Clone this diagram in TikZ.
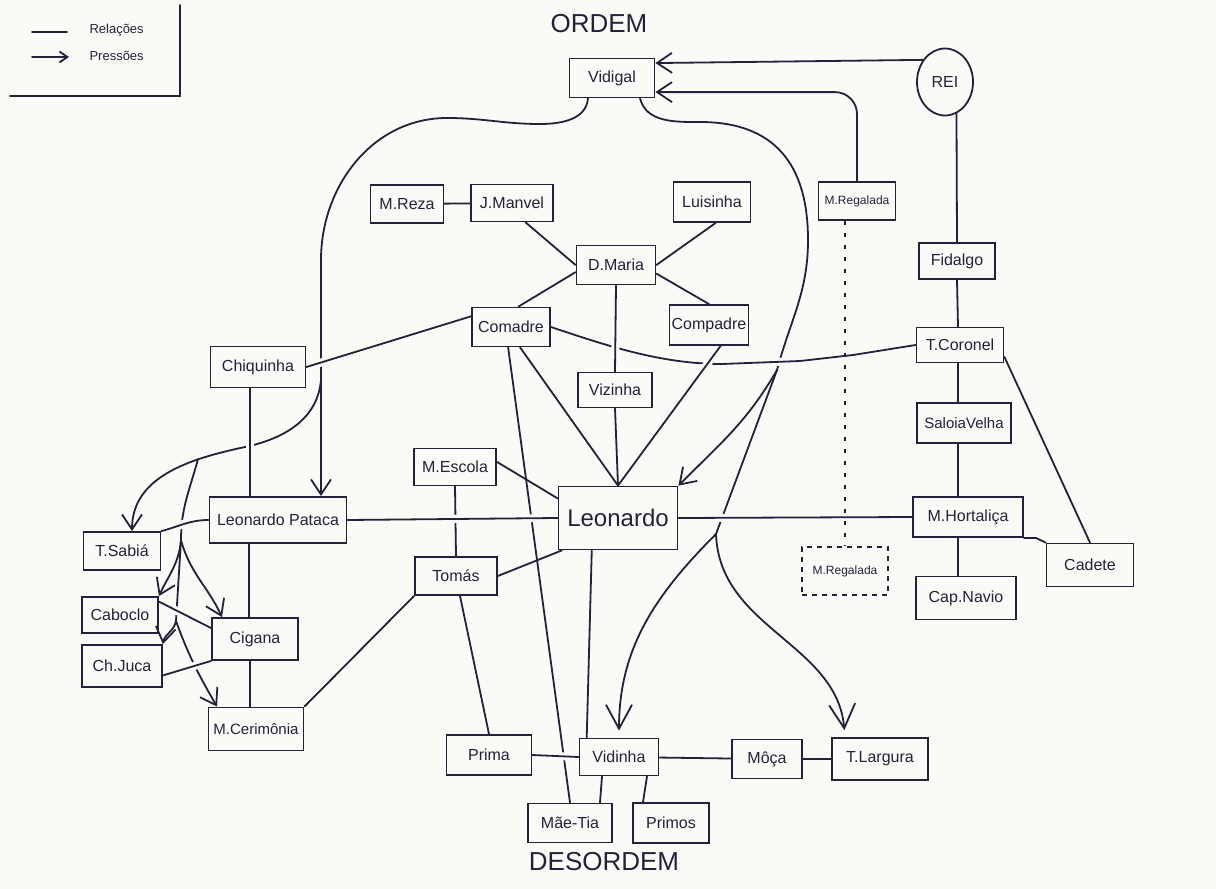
\documentclass[tikz,border=0pt]{standalone}
\usepackage{fontspec}
\setmainfont{Liberation Sans}
\usepackage{xcolor}
\definecolor{tinta}{RGB}{38,33,58}
\definecolor{papel}{RGB}{251,250,247}
\usepackage{tikz}
\usetikzlibrary{calc}
\usetikzlibrary{arrows.meta}
\usetikzlibrary{shapes.geometric}
\newcommand{\fonte}[1]{\fontsize{#1}{#1}\selectfont}
\newcommand{\linha}{1.8pt}
\tikzset{
    caixa/.style 2 args={draw=tinta, rectangle, line width=\linha, minimum width=#1, minimum height=#2, inner sep=1pt, font=\fonte{16}, text=tinta},
    rei/.style={draw=tinta, ellipse, line width=\linha, minimum width=56pt, minimum height=67pt, inner sep=0pt, font=\fonte{16}, text=tinta},
    tracejada/.style={dash pattern=on 5pt off 5pt},
    relacao/.style={draw=tinta, line width=\linha, line cap=round},
    pressao/.style={relacao, -{Straight Barb[length=15pt, width=20pt]}},
    pressaogrande/.style={relacao, -{Straight Barb[length=24pt, width=26pt]}, shorten >=7pt},
    hop/.style 2 args={preaction={draw=papel, line width=8pt, shorten <=#1, shorten >=#2}},
    pontilhado/.style={draw=tinta, line width=\linha, dash pattern=on 4pt off 8pt},
    titulo/.style={font=\fonte{26}, text=tinta},
    legenda/.style={font=\fonte{13}, text=tinta, anchor=west}
}

\begin{document}
\begin{tikzpicture}[x=1pt, y=1pt]
        \fill[papel] (0,0) rectangle (1216,-889);
        \useasboundingbox (0,0) rectangle (1216,-889);

        % legenda
        \draw[relacao] (10,-96) -| (180,-5);
        \coordinate (rel-a) at (32,-32);
        \coordinate (rel-b) at (67,-32);
        \coordinate (pre-a) at (32,-57);
        \coordinate (pre-b) at (69,-57);
        \draw[relacao] (rel-a) -- (rel-b);
        \draw[relacao, -{Straight Barb[length=8pt, width=11pt]}] (pre-a) -- (pre-b);
        \node[legenda] (relacoes) at (86,-30) {Relações};
        \node[legenda] (pressoes) at (86,-56) {Pressões};

        \node[titulo] (ordem) at (599,-24) {ORDEM};
        \node[titulo] (desordem) at (604,-862) {DESORDEM};

        \node[caixa={85pt}{39pt}] (Vidigal) at (612,-78) {Vidigal};
        \node[rei] (REI) at (945,-82) {REI};
        \node[caixa={77pt}{38pt}, font=\fonte{12}] (MRegalada) at (857,-201) {M.Regalada};
        \node[caixa={77pt}{40pt}] (Luisinha) at (712,-202) {Luisinha};
        \node[caixa={73pt}{38pt}] (MReza) at (407,-204) {M.Reza};
        \node[caixa={82pt}{37pt}] (JManvel) at (512,-203) {J.Manvel};
        \node[caixa={79pt}{39pt}] (DMaria) at (616,-265) {D.Maria};
        \node[caixa={78pt}{39pt}] (Comadre) at (511,-327) {Comadre};
        \node[caixa={79pt}{40pt}] (Compadre) at (709,-325) {Compadre};
        \node[caixa={74pt}{35pt}] (Vizinha) at (615,-390) {Vizinha};
        \node[caixa={95pt}{41pt}] (Chiquinha) at (258,-367) {Chiquinha};
        \node[caixa={76pt}{36pt}] (Fidalgo) at (957,-261) {Fidalgo};
        \node[caixa={87pt}{35pt}] (TCoronel) at (960,-345) {T.Coronel};
        \node[caixa={94pt}{40pt}, font=\fonte{15}] (SaloiaVelha) at (964,-423) {SaloiaVelha};
        \node[caixa={110pt}{40pt}] (MHortalica) at (968,-517) {M.Hortaliça};
        \node[caixa={87pt}{43pt}] (Cadete) at (1090,-565) {Cadete};
        \node[caixa={100pt}{43pt}] (CapNavio) at (966,-598) {Cap.Navio};
        \node[caixa={86pt}{48pt}, tracejada, font=\fonte{12}] (MRegaladaB) at (845,-571) {M.Regalada};
        \node[caixa={82pt}{37pt}] (MEscola) at (455,-467) {M.Escola};
        \node[caixa={119pt}{63pt}, font=\fonte{24}] (Leonardo) at (618,-518) {Leonardo};
        \node[caixa={137pt}{46pt}] (LPataca) at (278,-520) {Leonardo Pataca};
        \node[caixa={77pt}{38pt}] (TSabia) at (122,-551) {T.Sabiá};
        \node[caixa={82pt}{38pt}] (Tomas) at (456,-576) {Tomás};
        \node[caixa={76pt}{36pt}] (Caboclo) at (120,-615) {Caboclo};
        \node[caixa={86pt}{42pt}] (Cigana) at (255,-639) {Cigana};
        \node[caixa={80pt}{42pt}] (ChJuca) at (122,-666) {Ch.Juca};
        \node[caixa={95pt}{43pt}, font=\fonte{15}] (MCerimonia) at (256,-729) {M.Cerimônia};
        \node[caixa={85pt}{40pt}] (Prima) at (489,-755) {Prima};
        \node[caixa={79pt}{37pt}] (Vidinha) at (619,-757) {Vidinha};
        \node[caixa={70pt}{39pt}] (Moca) at (767,-759) {Môça};
        \node[caixa={96pt}{42pt}] (TLargura) at (880,-759) {T.Largura};
        \node[caixa={84pt}{39pt}] (MaeTia) at (570,-823) {Mãe-Tia};
        \node[caixa={76pt}{40pt}] (Primos) at (671,-823) {Primos};

        % pressoes
        \draw[pressao] (REI.135) -- (Vidigal.19);
        \draw[pressao, rounded corners=22pt] (MRegalada.north) |- (Vidigal.-18);

        \coordinate (ramoA) at (321,-380);
        \coordinate (ramoB) at (198,-459);
        \coordinate (ramoC) at (181,-540);
        \coordinate (ramoD) at (176,-621);
        \draw[pressao] ([xshift=-24pt]Vidigal.south) to[out=-95, in=0] (540,-124) to[out=180, in=0] (447,-118)
            to[out=180, in=90] (321,-260) -- ([xshift=43pt]LPataca.north);
        \draw[pressao] (ramoA) to[out=-95, in=12] (245,-447) to[out=192, in=90] ([xshift=10pt]TSabia.north);
        \draw[relacao] (ramoB) to[out=-105, in=90] (ramoC) -- (ramoD);
        \draw[pressao] (ramoC) to[out=-95, in=65] (Caboclo.north east);
        \draw[pressao] (ramoC) to[out=-75, in=115] ([xshift=-33pt]Cigana.north);
        \draw[pressao] (ramoD) to[out=-100, in=80] (ChJuca.north east);
        \draw[pressao] (ramoD) to[out=-70, in=120] ([xshift=-39pt]MCerimonia.north);

        \coordinate (ramoE) at (777,-370);
        \coordinate (ramoF) at (716,-534);
        \draw[relacao] ([xshift=28pt]Vidigal.south) to[out=-75, in=180] (700,-122)
            to[out=0, in=90, looseness=1.2] (808,-240) to[out=-90, in=75] (ramoE) -- (ramoF);
        \draw[pressao] (ramoE) to[out=-120, in=45] (Leonardo.north east);
        \draw[pressaogrande] (ramoF) to[out=-135, in=90] (Vidinha.north);
        \draw[pressaogrande] (ramoF) to[out=-88, in=95] ([xshift=-35pt]TLargura.north);

        % relacoes
        \draw[relacao] (MReza) -- (JManvel);
        \draw[relacao] (JManvel.-55) -- (DMaria.west);
        \draw[relacao] (Luisinha.-80) -- (DMaria.east);
        \draw[relacao] (DMaria.190) -- (Comadre.70);
        \draw[relacao] (DMaria.-12) -- (Compadre.north);
        \draw[relacao] (Comadre.-66) -- (Leonardo.north);
        \draw[relacao] (Vizinha.south) -- (Leonardo.north);
        \draw[relacao] (Comadre.-98) -- (MaeTia.north);

        \coordinate (ct1) at (722,-364);
        \coordinate (ct2) at (800,-361);
        \draw[relacao] (Comadre.east) .. controls (605,-345) and (660,-364) .. (ct1);
        \draw[relacao, hop={6pt}{6pt}] (ct1) -- (ct2);
        \draw[relacao] (ct2) -- (853,-355) -- (TCoronel.west);
        \draw[relacao, hop={7pt}{7pt}] (DMaria.south) -- (Vizinha.north);
        \draw[relacao, hop={8pt}{120pt}] (Compadre.-61) -- (Leonardo.north);

        \draw[relacao, hop={8pt}{8pt}] (Chiquinha.east) -- (Comadre.165);
        \draw[relacao, hop={8pt}{8pt}] ([xshift=-8pt]Chiquinha.south) -- ([xshift=-28pt]LPataca.north);
        \draw[relacao] ([xshift=-29pt]LPataca.south) -- ([xshift=-6pt]Cigana.north);
        \draw[relacao] ([xshift=-5pt]Cigana.south) -- ([xshift=-6pt]MCerimonia.north);
        \draw[relacao, hop={8pt}{8pt}] (LPataca.west) to[out=180, in=15] (TSabia.north east);
        \draw[relacao, hop={9pt}{8pt}] (Caboclo.19) -- (Cigana.166);
        \draw[relacao, hop={8pt}{8pt}] (ChJuca.-13) -- (Cigana.south west);
        \draw[relacao] (MCerimonia.north east) -- (Tomas.south west);

        \draw[relacao] (MEscola.south) -- (Tomas.north);
        \draw[relacao] (MEscola.7) -- (Leonardo.162);
        \draw[relacao] (Tomas.east) -- (Leonardo.-150);
        \draw[relacao] ([xshift=4pt]Tomas.south) -- (Prima.north);
        \draw[relacao, hop={8pt}{8pt}] (LPataca.east) -- (Leonardo.west);
        \draw[relacao] (Leonardo.-129) -- (Vidinha.149);
        \draw[relacao, hop={7pt}{7pt}] (Prima.east) -- (Vidinha.west);
        \draw[relacao] (Vidinha) -- (Moca) -- (TLargura);
        \draw[relacao] ([xshift=-17pt]Vidinha.south) -- ([xshift=30pt]MaeTia.north);
        \draw[relacao] ([xshift=28pt]Vidinha.south) -- ([xshift=-28pt]Primos.north);
        \draw[relacao, hop={8pt}{8pt}] (Leonardo.east) -- (MHortalica.west);

        \draw[relacao] (REI.-70) -- (Fidalgo.north);
        \draw[relacao] (Fidalgo.south) -- ([xshift=-2pt]TCoronel.north);
        \draw[relacao] ([xshift=-2pt]TCoronel.south) -- ([xshift=-6pt]SaloiaVelha.north);
        \draw[relacao] ([xshift=-6pt]SaloiaVelha.south) -- ([xshift=-10pt]MHortalica.north);
        \draw[relacao] ([xshift=-10pt]MHortalica.south) -- ([xshift=-8pt]CapNavio.north);
        \draw[relacao] (TCoronel.-15) -- (Cadete.north);
        \draw[relacao] (MHortalica.south east) -- ++(12,0) -- (Cadete.north west);
        \draw[pontilhado] ([xshift=-12pt]MRegalada.south) -- (MRegaladaB.north);
\end{tikzpicture}
\end{document}
